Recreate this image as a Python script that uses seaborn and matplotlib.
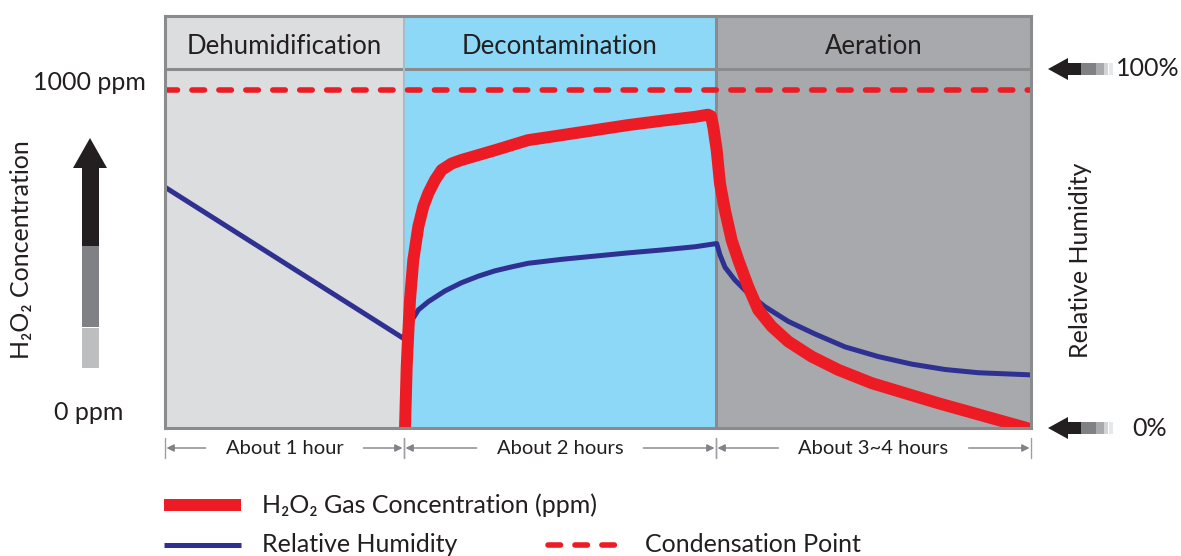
import pandas as pd
import seaborn as sns
import matplotlib.pyplot as plt
from matplotlib.patches import Rectangle, Polygon
from matplotlib.lines import Line2D
from matplotlib.transforms import Affine2D

# Phases of the cycle (x in arbitrary time units, y in % of scale)
phase_names = ['Dehumidification', 'Decontamination', 'Aeration']
phase_edges = [0, 239, 551, 866]
phase_colors = ['#dcdddf', '#8dd8f7', '#a7a9ac']
durations = ['About 1 hour', 'About 2 hours', 'About 3~4 hours']
header_top = 114.8
condensation = 94.2

# H2O2 gas concentration curve
h2o2_t = [240, 241.7, 243.3, 245, 248.3, 253.3, 258.3, 263.3, 270, 276.7, 286.7,
          296.7, 330, 363, 396.7, 430, 463, 496.7, 530, 543, 546, 548.3, 551.7,
          555, 560, 566.7, 573.3, 583.3, 593.3, 606.7, 623.3, 646.7, 673.3,
          706.7, 740, 773.3, 806.7, 840, 856.7, 862]
h2o2_c = [0, 17.1, 26.5, 35.7, 46.8, 56.1, 61.7, 65.4, 69.1, 71.9, 73.7,
          74.7, 77.4, 80.2, 81.6, 83.0, 84.4, 85.6, 86.7, 87.3, 86.9, 83.9, 77.4,
          68.1, 60.6, 52.3, 46.8, 39.3, 32.9, 28.3, 24.1, 19.9, 16.2,
          12.5, 9.7, 6.9, 4.3, 1.7, 0.4, 0]

# Relative humidity curve
rh_t = [0, 238.3, 245, 253.3, 263.3, 280, 296.7, 313.3, 330, 346.7, 363.3, 396.7,
        430, 463.3, 496.7, 530, 551.7, 555, 560, 570, 583.3, 600, 623.3, 650,
        680, 713.3, 746.7, 780, 813.3, 866]
rh_v = [67.1, 25.0, 29.2, 32.9, 35.2, 38.2, 40.5, 42.3, 43.8, 44.9, 45.9, 47.0,
        47.9, 48.8, 49.6, 50.5, 51.4, 48.2, 44.8, 41.2, 37.5, 33.8, 29.7, 26.2,
        22.6, 19.9, 17.8, 16.3, 15.4, 14.8]

h2o2_df = pd.DataFrame({'t': h2o2_t, 'c': h2o2_c})
rh_df = pd.DataFrame({'t': rh_t, 'rh': rh_v})

RED = '#ed1c24'
BLUE = '#2e3192'
GRAY = '#8a8b8d'
TXT = '#231f20'

sns.set_style('white')
plt.rcParams['font.family'] = ['Lato', 'DejaVu Sans']

W, H = 1181, 556
fig = plt.figure(figsize=(W / 100, H / 100), dpi=100)
ax = fig.add_axes([165 / W, 1 - 428 / H, 866 / W, 412 / H])
px = Affine2D().scale(1 / W, -1 / H).translate(0, 1) + fig.transFigure

# backgrounds
for lo, hi, c in zip(phase_edges[:-1], phase_edges[1:], phase_colors):
    ax.axvspan(lo, hi, color=c, lw=0, zorder=0)
ax.axhline(100, color=GRAY, lw=2.2, zorder=1)
ax.axvline(phase_edges[1], color='#9fbfcc', lw=1.5, zorder=1)
ax.axvline(phase_edges[2], color=GRAY, lw=2.2, zorder=1)

ax.axhline(condensation, color=RED, lw=4, dashes=(2.25, 2.6),
           dash_capstyle='round', zorder=2)

sns.lineplot(data=rh_df, x='t', y='rh', ax=ax, color=BLUE, lw=3.6,
             sort=False, estimator=None, zorder=3)
sns.lineplot(data=h2o2_df, x='t', y='c', ax=ax, color=RED, lw=8.6,
             sort=False, estimator=None, zorder=4)
for ln in ax.lines:
    ln.set_solid_joinstyle('round')

ax.set_xlim(phase_edges[0], phase_edges[-1])
ax.set_ylim(0, header_top)
ax.set_xticks([])
ax.set_yticks([])
ax.set_xlabel('')
ax.set_ylabel('')
for sp in ax.spines.values():
    sp.set_color(GRAY)
    sp.set_linewidth(2.2)
    sp.set_zorder(6)

# phase headers
for lo, hi, name in zip(phase_edges[:-1], phase_edges[1:], phase_names):
    ax.text((lo + hi) / 2, (100 + header_top) / 2 - 1.1, name, ha='center', va='center',
            fontsize=18.5, color=TXT)

# duration arrows under the chart
xt = ax.get_xaxis_transform()
yf = -20 / 412
renderer = fig.canvas.get_renderer()
for lo, hi, lab in zip(phase_edges[:-1], phase_edges[1:], durations):
    t = ax.text((lo + hi) / 2, yf, lab, transform=xt, ha='center', va='center',
                fontsize=14.5, color=TXT)
    tw = t.get_window_extent(renderer).width
    arr = ((hi - lo) - tw) / 2 - 20
    for x0 in (lo, hi):
        ax.add_line(Line2D([x0, x0], [-10 / 412, -30 / 412], transform=xt,
                           color='#9d9fa2', lw=1, clip_on=False))
    for a, b in ((lo + arr, lo + 1.5), (hi - arr, hi - 1.5)):
        ax.annotate('', xy=(b, yf), xytext=(a, yf), xycoords=xt, textcoords=xt,
                    annotation_clip=False,
                    arrowprops=dict(arrowstyle='-|>', color='#808285', lw=1,
                                    mutation_scale=11, shrinkA=0, shrinkB=0))

# left axis: labels and vertical arrow
fig.text(89 / W, 1 - 82 / H, '1000 ppm', ha='center', va='center', fontsize=18, color=TXT)
fig.text(89 / W, 1 - 413 / H, '0 ppm', ha='center', va='center', fontsize=18, color=TXT)
fig.text(22 / W, 1 - 250 / H, 'H₂O₂ Concentration', ha='center', va='center',
         rotation=90, fontsize=18, color=TXT)
for y0, y1, c in ((328, 368, '#bcbec0'), (246, 327, '#808184'), (166, 246, '#231f20')):
    fig.add_artist(Rectangle((82, y0), 17, y1 - y0, transform=px, color=c, lw=0))
fig.add_artist(Polygon([(73, 168), (107, 168), (90, 138)], closed=True,
                       transform=px, color='#231f20', lw=0))

# right axis: labels and small arrows
fig.text(1081 / W, 1 - 260 / H, 'Relative Humidity', ha='center', va='center',
         rotation=90, fontsize=18, color=TXT)
for yc, lab, xl in ((69, '100%', 1148), (428, '0%', 1150)):
    fig.add_artist(Polygon([(1048, yc), (1068, yc - 11), (1068, yc + 11)], closed=True,
                           transform=px, color='#231f20', lw=0))
    for x0, x1, c in ((1066, 1081, '#231f20'), (1081, 1096, '#808184'),
                      (1096, 1104, '#a7a9ac'), (1104, 1108, '#d1d3d4'),
                      (1109, 1113, '#e6e7e8')):
        fig.add_artist(Rectangle((x0, yc - 6), x1 - x0, 12, transform=px, color=c, lw=0))
    fig.text(xl / W, 1 - yc / H, lab, ha='center', va='center', fontsize=18, color=TXT)

# legend
fig.add_artist(Line2D([164, 241], [505, 505], transform=px, color=RED, lw=8.6,
                      solid_capstyle='butt'))
fig.text(262 / W, 1 - 505 / H, 'H₂O₂ Gas Concentration (ppm)', ha='left', va='center',
         fontsize=18, color=TXT)
fig.add_artist(Line2D([164, 241], [545, 545], transform=px, color=BLUE, lw=3.6,
                      solid_capstyle='butt'))
fig.text(262 / W, 1 - 545 / H, 'Relative Humidity', ha='left', va='center',
         fontsize=18, color=TXT)
fig.add_artist(Line2D([548, 622], [545, 545], transform=px, color=RED, lw=4,
                      dashes=(2.25, 2.6), dash_capstyle='round'))
fig.text(645 / W, 1 - 545 / H, 'Condensation Point', ha='left', va='center',
         fontsize=18, color=TXT)

fig.savefig('out.png', dpi=100)
